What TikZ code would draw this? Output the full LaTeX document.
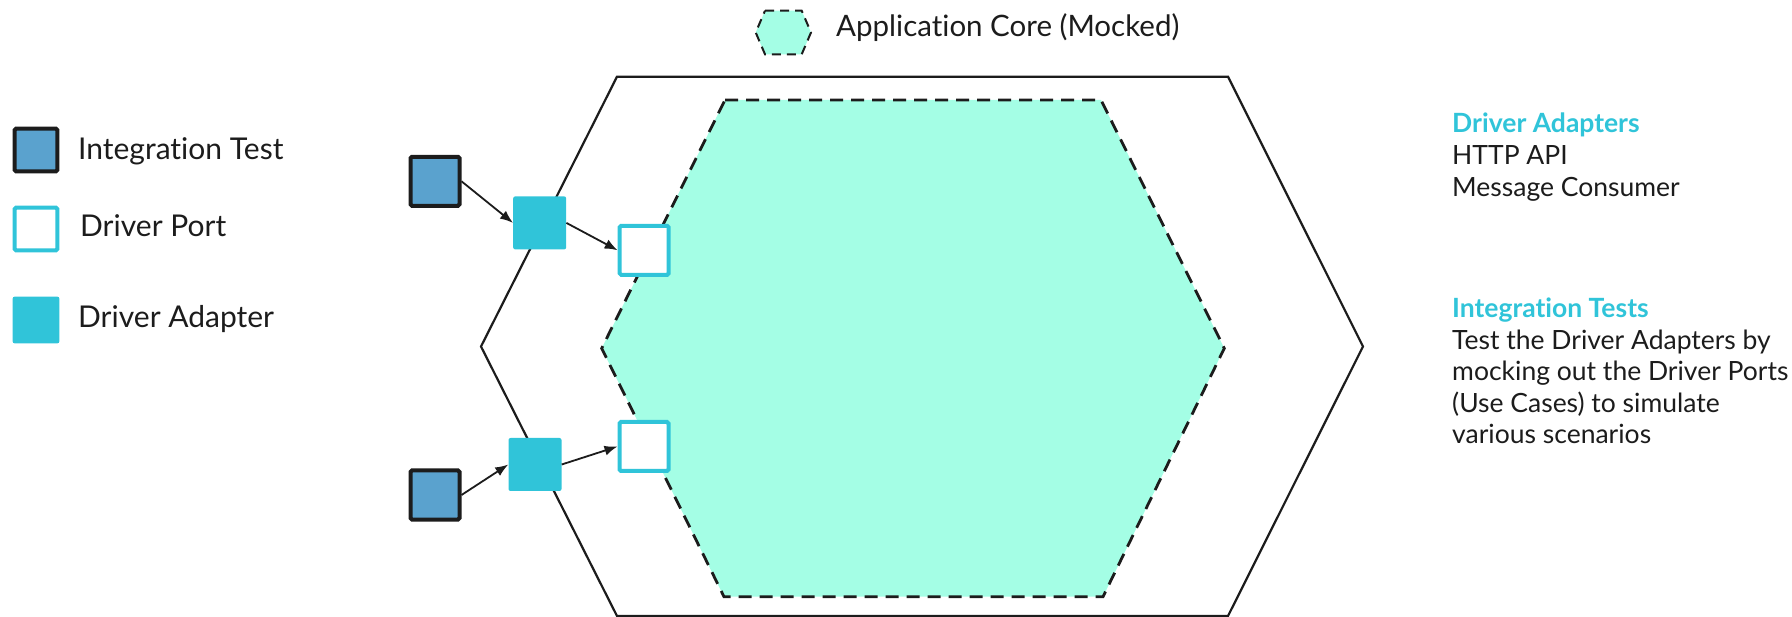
\documentclass[tikz,border=0pt]{standalone}
\usepackage{fontspec}
\setmainfont{Lato}[Ligatures=NoCommon]
\usetikzlibrary{arrows.meta}

\definecolor{testblue}{HTML}{5AA2CE}
\definecolor{adaptcyan}{HTML}{30C4D9}
\definecolor{coremint}{HTML}{A4FEE5}
\definecolor{ink}{HTML}{1C1C1C}

\tikzset{
  testbox/.style={draw=ink, line width=4pt, fill=testblue, minimum size=49pt,
    inner sep=0pt, rounded corners=1.5pt},
  portbox/.style={draw=adaptcyan, line width=4pt, fill=white, minimum size=49pt,
    inner sep=0pt, rounded corners=1.5pt},
  adapterbox/.style={fill=adaptcyan, minimum size=53pt, inner sep=0pt,
    rounded corners=2pt},
  flow/.style={draw=ink, line width=1.8pt, -{Latex[length=13pt,width=10pt]}},
  legendtext/.style={anchor=base west, inner sep=0pt, text=ink,
    font=\fontsize{30}{36}\selectfont},
  sidehead/.style={anchor=base west, inner sep=0pt, text=adaptcyan,
    font=\fontsize{26.5}{32}\selectfont\bfseries},
  sidetext/.style={anchor=base west, inner sep=0pt, text=ink,
    font=\fontsize{26.5}{32}\selectfont},
  hexouter/.style={draw=ink, line width=2.2pt, line join=miter},
  hexcore/.style={draw=ink, fill=coremint, line width=2.8pt,
    dash pattern=on 13pt off 8pt},
  hexkey/.style={draw=ink, fill=coremint, line width=2pt,
    dash pattern=on 9pt off 6pt},
}

\begin{document}
\begin{tikzpicture}[x=1pt, y=-1pt]
\useasboundingbox (0,0) rectangle (1792,617);

% key for the mocked core
\draw[hexkey] (765,10.7) -- (801.7,10.7) -- (811,32.5) -- (801.7,54.3)
  -- (765,54.3) -- (755.7,32.5) -- cycle;
\node[legendtext, font=\fontsize{29.5}{35}\selectfont] (coretitle) at (836,37)
  {Application Core (Mocked)};

% outer hexagon (adapters ring)
\draw[hexouter] (617,76.7) -- (1228,76.7) -- (1363,346.5) -- (1228,616)
  -- (617,616) -- (481,346.5) -- cycle;

% inner hexagon (mocked application core)
\draw[hexcore] (725,100) -- (1101,100) -- (1224.3,348.3) -- (1103,596.7)
  -- (724,596.7) -- (601.7,348.3) -- cycle;

% legend
\node[testbox, minimum size=42.7pt] (keytest) at (36,150) {};
\node[portbox, minimum size=42.7pt] (keyport) at (36,229) {};
\node[adapterbox, minimum size=46.7pt] (keyadapter) at (36,320) {};
\node[legendtext] (keytesttxt) at (78,159.3) {Integration Test};
\node[legendtext] (keyporttxt) at (80,237) {Driver Port};
\node[legendtext] (keyadaptertxt) at (78,328) {Driver Adapter};

% upper chain
\node[testbox] (testA) at (435,181.3) {};
\node[adapterbox] (adapterA) at (539.7,222.9) {};
\node[portbox] (portA) at (644.2,250.3) {};
\draw[flow] (testA.east) -- (adapterA.west);
\draw[flow] (adapterA.east) -- (portA.west);

% lower chain
\node[testbox] (testB) at (435,495) {};
\node[adapterbox] (adapterB) at (535,464.5) {};
\node[portbox] (portB) at (644,446.5) {};
\draw[flow] (testB.east) -- (adapterB.west);
\draw[flow] (adapterB.east) -- (portB.west);

% notes
\node[sidehead] (headadapters) at (1452,132.7) {Driver Adapters};
\node[sidetext] (noteA1) at (1452,165) {HTTP API};
\node[sidetext] (noteA2) at (1452,196.7) {Message Consumer};
\node[sidehead] (headtests) at (1452,317.3) {Integration Tests};
\node[sidetext] (noteB1) at (1452,349.3) {Test the Driver Adapters by};
\node[sidetext] (noteB2) at (1452,381) {mocking out the Driver Ports};
\node[sidetext] (noteB3) at (1452,412.7) {(Use Cases) to simulate};
\node[sidetext] (noteB4) at (1452,444) {various scenarios};
\end{tikzpicture}
\end{document}
